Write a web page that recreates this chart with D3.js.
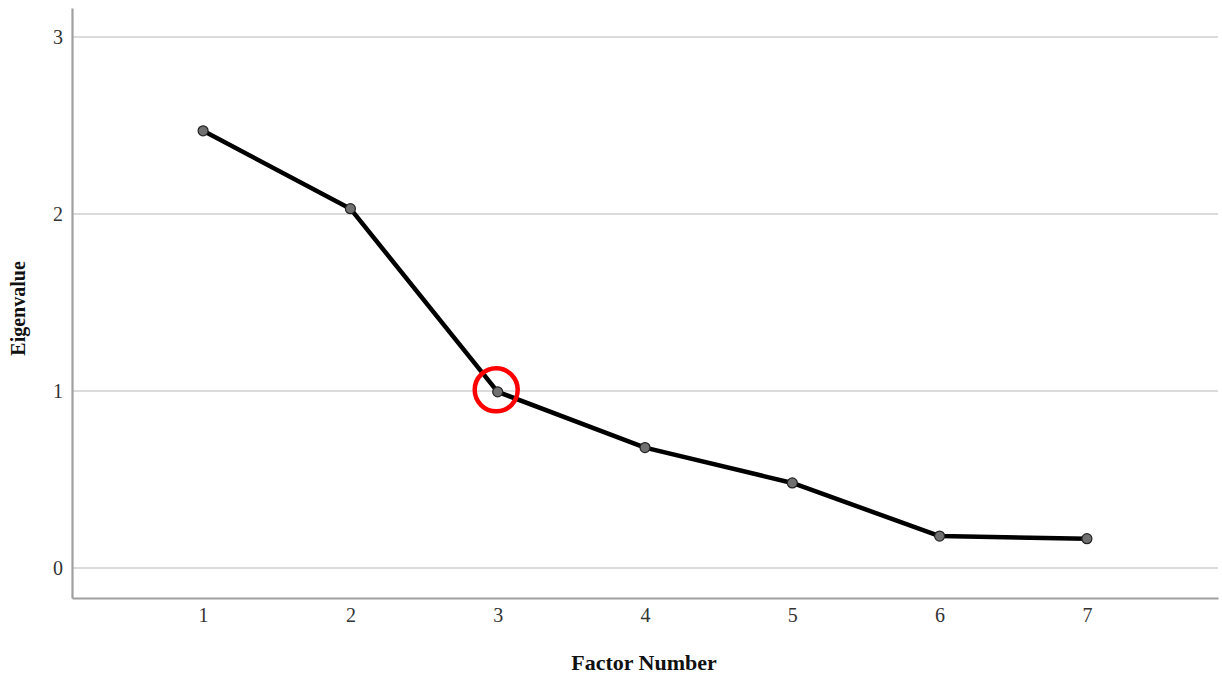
<!DOCTYPE html>
<html>
<head>
<meta charset="utf-8">
<script src="https://cdn.jsdelivr.net/npm/d3@7"></script>
<style>
  body { margin: 0; background: #fff; }
  svg { display: block; }
  text { font-family: "Liberation Serif", "Times New Roman", serif; }
</style>
</head>
<body>
<div id="chart"></div>
<script>
// scree plot data
const factors = [1, 2, 3, 4, 5, 6, 7];
const eigenvalues = [2.47, 2.03, 0.995, 0.68, 0.48, 0.18, 0.165];
const yTicks = [0, 1, 2, 3];
const highlighted = 3; // the factor circled in red

const width = 1222, height = 679;
const margin = { left: 72, right: 4, top: 8, bottom: 81 };

const svg = d3.select('#chart').append('svg')
    .attr('width', width)
    .attr('height', height);

const x = d3.scaleLinear()
    .domain([0.11, 7.89])
    .range([margin.left, width - margin.right]);

const y = d3.scaleLinear()
    .domain([-0.17, 3.164])
    .range([height - margin.bottom, margin.top]);

// gridlines
svg.append('g')
    .selectAll('line')
    .data(yTicks)
    .join('line')
    .attr('x1', margin.left)
    .attr('x2', width - margin.right)
    .attr('y1', d => y(d))
    .attr('y2', d => y(d))
    .attr('stroke', '#cfcfcf')
    .attr('stroke-width', 1.5);

// axes
const yAxis = svg.append('g')
    .attr('transform', `translate(${margin.left},0)`)
    .call(d3.axisLeft(y).tickValues(yTicks).tickSize(0).tickPadding(9).tickFormat(d3.format('d')));
const xAxis = svg.append('g')
    .attr('transform', `translate(0,${height - margin.bottom})`)
    .call(d3.axisBottom(x).tickValues(factors).tickSize(0).tickPadding(10).tickFormat(d3.format('d')));

[yAxis, xAxis].forEach(ax => {
    ax.select('.domain').attr('stroke', '#a0a0a0').attr('stroke-width', 2.2);
    ax.selectAll('text')
        .attr('fill', '#333')
        .style('font-size', '20px')
        .style('font-family', '"Liberation Serif", serif');
});

// axis titles
svg.append('text')
    .attr('x', 644)
    .attr('y', 670)
    .attr('text-anchor', 'middle')
    .style('font-size', '22px')
    .style('font-weight', 'bold')
    .attr('fill', '#111')
    .text('Factor Number');

svg.append('text')
    .attr('transform', `translate(25,${(y(0) + y(3)) / 2 + 6}) rotate(-90)`)
    .attr('text-anchor', 'middle')
    .style('font-size', '20px')
    .style('font-weight', 'bold')
    .attr('fill', '#111')
    .text('Eigenvalue');

// line
const points = factors.map((f, i) => ({ f, v: eigenvalues[i] }));
const line = d3.line().x(d => x(d.f)).y(d => y(d.v));

svg.append('path')
    .datum(points)
    .attr('d', line)
    .attr('fill', 'none')
    .attr('stroke', '#000')
    .attr('stroke-width', 4.5)
    .attr('stroke-linejoin', 'round');

svg.append('g')
    .selectAll('circle')
    .data(points)
    .join('circle')
    .attr('cx', d => x(d.f))
    .attr('cy', d => y(d.v))
    .attr('r', 5)
    .attr('fill', '#707070')
    .attr('stroke', '#222')
    .attr('stroke-width', 1.2);

// red marker around the elbow
const hp = points.find(d => d.f === highlighted);
svg.append('circle')
    .attr('cx', x(hp.f) - 1.5)
    .attr('cy', y(hp.v) - 2)
    .attr('r', 21.5)
    .attr('fill', 'none')
    .attr('stroke', '#f00')
    .attr('stroke-width', 4.5);
</script>
</body>
</html>
